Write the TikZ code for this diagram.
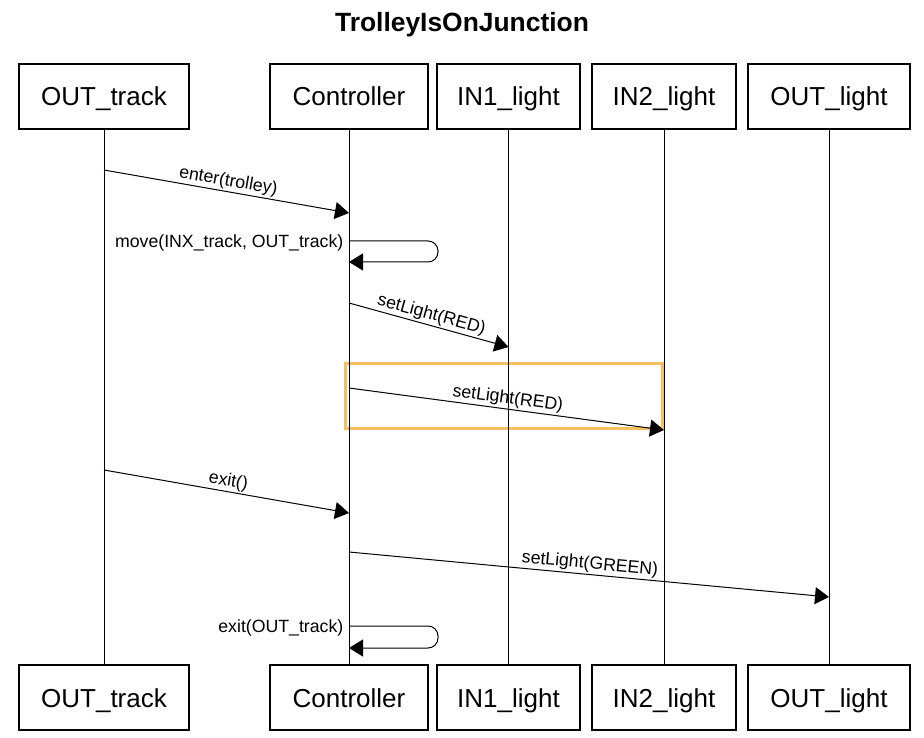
\documentclass[tikz,border=0pt]{standalone}
\usepackage{fontspec}
\setmainfont{Liberation Sans}
\usetikzlibrary{arrows.meta,positioning}
\definecolor{hiorange}{RGB}{246,192,96}
\tikzset{
lifebox/.style={
  draw=black,
  line width=1.2pt,
  minimum height=65pt,
  inner sep=0pt,
  text height=19pt,
  text depth=0pt,
  font=\fontsize{26}{30}\selectfont,
  }
}
\tikzset{
lifeline/.style={
  line width=1pt,
  }
}
\tikzset{
msgline/.style={
  line width=1pt,
  -{Triangle[length=14pt,width=17pt]}
  }
}
\tikzset{
msglabel/.style={
  font=\fontsize{17.7}{20}\selectfont,
  inner sep=1.5pt,
  }
}

\begin{document}
\begin{tikzpicture}[x=1pt,y=-1pt]
    \useasboundingbox (0,0) rectangle (924,738);
    \node[font=\fontsize{26.4}{30}\selectfont\bfseries] (title) at (462,25) {TrolleyIsOnJunction};

    % highlighted message
    \node[draw=hiorange, line width=3pt, minimum width=317pt, minimum height=65pt, inner sep=0pt] (focus) at (503.5,395.5) {};

    % top boxes
    \node[lifebox, minimum width=170pt] (ott) at (104,96.5) {OUT\_track};
    \node[lifebox, minimum width=158pt] (ctt) at (349,96.5) {Controller};
    \node[lifebox, minimum width=143pt] (i1t) at (508.5,96.5) {IN1\_light};
    \node[lifebox, minimum width=144pt] (i2t) at (664,96.5) {IN2\_light};
    \node[lifebox, minimum width=162pt] (olt) at (829,96.5) {OUT\_light};

    % bottom boxes
    \node[lifebox, minimum width=170pt] (otb) at (104,697.5) {OUT\_track};
    \node[lifebox, minimum width=158pt] (ctb) at (349,697.5) {Controller};
    \node[lifebox, minimum width=143pt] (i1b) at (508.5,697.5) {IN1\_light};
    \node[lifebox, minimum width=144pt] (i2b) at (664,697.5) {IN2\_light};
    \node[lifebox, minimum width=162pt] (olb) at (829,697.5) {OUT\_light};

    % lifelines
    \draw[lifeline] (ott) -- (otb);
    \draw[lifeline] (ctt) -- (ctb);
    \draw[lifeline] (i1t) -- (i1b);
    \draw[lifeline] (i2t) -- (i2b);
    \draw[lifeline] (olt) -- (olb);

    % message points
    \coordinate (enter_s) at (104,170);
    \coordinate (enter_e) at (349,213);
    \coordinate (move_s) at (349,241);
    \coordinate (move_e) at (349,262);
    \coordinate (red1_s) at (349,303);
    \coordinate (red1_e) at (508.5,347);
    \coordinate (red2_s) at (349,388);
    \coordinate (red2_e) at (664,430);
    \coordinate (exit_s) at (104,470);
    \coordinate (exit_e) at (349,513);
    \coordinate (green_s) at (349,552);
    \coordinate (green_e) at (829,597);
    \coordinate (leave_s) at (349,626);
    \coordinate (leave_e) at (349,648);

    % messages
    \draw[msgline] (enter_s) -- node[msglabel, sloped, above] {enter(trolley)} (enter_e);
    \draw[msgline, rounded corners=10pt] (move_s) -- ++(89,0) -- ++(0,21) -- (move_e);
    \node[msglabel, anchor=east] at ([xshift=-4pt,yshift=-2pt]move_s) {move(INX\_track, OUT\_track)};
    \draw[msgline] (red1_s) -- node[msglabel, sloped, above] {setLight(RED)} (red1_e);
    \draw[msgline] (red2_s) -- node[msglabel, sloped, above] {setLight(RED)} (red2_e);
    \draw[msgline] (exit_s) -- node[msglabel, sloped, above] {exit()} (exit_e);
    \draw[msgline] (green_s) -- node[msglabel, sloped, above] {setLight(GREEN)} (green_e);
    \draw[msgline, rounded corners=10pt] (leave_s) -- ++(89,0) -- ++(0,22) -- (leave_e);
    \node[msglabel, anchor=east] at ([xshift=-4pt,yshift=-2pt]leave_s) {exit(OUT\_track)};
\end{tikzpicture}
\end{document}
